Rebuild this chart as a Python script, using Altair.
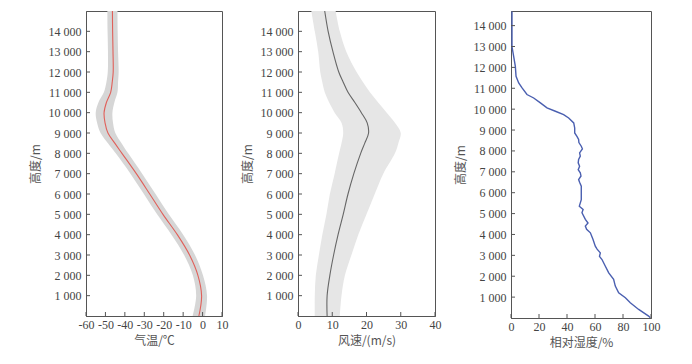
import altair as alt
import pandas as pd

# ---- Panel 1: temperature (mean and spread) ----
h_tw = [0, 1000, 2000, 3000, 4000, 5000, 6000, 7000, 8000, 8500, 9000, 9500,
        10000, 10500, 11000, 11500, 12000, 13000, 14000, 15000]
t_mean = [-1.9, -0.5, -2.4, -6.7, -13.0, -20.4, -27.2, -34.1, -41.5, -45.2, -48.7, -50.2,
          -50.7, -49.5, -47.3, -46.5, -46.0, -46.1, -46.3, -46.4]
t_half = [3.2, 2.8, 2.6, 2.8, 3.0, 3.0, 3.0, 3.0, 3.2, 3.5, 3.8, 4.1,
          4.3, 4.1, 3.5, 3.0, 2.8, 2.6, 2.6, 2.6]

# ---- Panel 2: wind speed (mean, lower, upper) ----
w_mean = [8.5, 8.5, 9.3, 10.4, 11.7, 13.2, 14.6, 16.3, 18.3, 19.5, 20.6, 20.2,
          18.5, 16.6, 14.6, 13.2, 11.9, 10.2, 8.8, 7.8]
w_low = [4.9, 4.9, 5.2, 6.1, 7.1, 8.3, 9.3, 10.7, 12.0, 12.7, 13.2, 12.7,
         10.7, 9.1, 7.8, 7.1, 6.5, 5.9, 4.9, 3.9]
w_high = [12.2, 12.7, 13.7, 15.6, 17.6, 20.0, 22.4, 24.9, 28.3, 29.3, 30.0, 28.3,
          25.9, 23.4, 21.0, 19.0, 17.1, 14.1, 12.2, 11.0]

# ---- Panel 3: relative humidity ----
h_rh = [10, 90, 410, 730, 970, 1210, 1530, 1850, 2160, 2480, 2800, 2950, 3120, 3300, 3440,
        3760, 4080, 4250, 4400, 4550, 4720, 5040, 5200, 5355, 5670, 5995, 6315, 6500, 6630,
        6800, 6950, 7100, 7270, 7430, 7590, 7750, 7905, 8100, 8225, 8400, 8545, 8700, 8860,
        9100, 9340, 9580, 9740, 9900, 10060, 10300, 10535, 10700, 11015, 11255, 11570,
        12050, 12530, 13000, 14000, 14680]
rh = [99.5, 98.3, 91.2, 85.2, 81.7, 76.9, 74.5, 73.3, 69.8, 67.4, 65.0, 63.2, 63.8, 61.5, 60.2,
      58.6, 56.7, 54.0, 53.1, 55.0, 53.1, 50.7, 51.5, 48.8, 50.2, 50.2, 50.2, 49.0, 48.3,
      50.0, 49.5, 48.0, 49.0, 48.0, 48.3, 49.5, 49.0, 51.0, 50.2, 48.5, 48.3, 47.1, 45.5,
      45.5, 44.8, 41.2, 37.6, 31.7, 25.7, 21.0, 16.2, 11.4, 7.9, 5.5, 3.6,
      3.1, 1.9, 0.7, 0.7, 0.7]

y_ticks = list(range(1000, 15000, 1000))
x1_ticks = [-60, -50, -40, -30, -20, -10, 0, 10]
x2_ticks = [0, 10, 20, 30, 40]
x3_ticks = [0, 20, 40, 60, 80, 100]

df_tw = pd.DataFrame({
    "h": h_tw,
    "t": t_mean,
    "t_lo": [m - s for m, s in zip(t_mean, t_half)],
    "t_hi": [m + s for m, s in zip(t_mean, t_half)],
    "w": w_mean, "w_lo": w_low, "w_hi": w_high,
})
df_rh = pd.DataFrame({"h": h_rh, "rh": rh})

LABEL_EXPR = "replace(format(datum.value, ','), ',', ' ')"
TICK = "#555555"
LFONT = "Liberation Serif"


def yaxis():
    return alt.Axis(values=y_ticks, labelExpr=LABEL_EXPR, ticks=False,
                    title="高度/m", labelPadding=5, titlePadding=6,
                    labelOverlap=False, labelFont=LFONT, labelFontSize=12,
                    grid=False)


def xaxis(title, vals):
    return alt.Axis(values=vals, ticks=False, title=title, labelPadding=3,
                    titlePadding=5, labelExpr="'' + datum.value",
                    labelOverlap=False, labelFont=LFONT, labelFontSize=12,
                    grid=False)


def Y(field, dom):
    return alt.Y(field, scale=alt.Scale(domain=dom, nice=False), axis=yaxis())


def X(field, dom, title, vals):
    return alt.X(field, scale=alt.Scale(domain=dom, nice=False),
                 axis=xaxis(title, vals))


def inward_ticks(xvals, xdom, ydom, hgt, xtitle):
    ydf = pd.DataFrame({"v": y_ticks})
    xdf = pd.DataFrame({"v": xvals})
    yt = alt.Chart(ydf).mark_rule(color=TICK, strokeWidth=1).encode(
        y=Y("v:Q", ydom), x=alt.value(0), x2=alt.value(4))
    xt = alt.Chart(xdf).mark_rule(color=TICK, strokeWidth=1).encode(
        x=X("v:Q", xdom, xtitle, xvals), y=alt.value(hgt), y2=alt.value(hgt - 4))
    return [yt, xt]


ydom = [0, 15000]
H = 305

# Panel 1
W1 = 136
dom1 = [-60, 10]
T1 = "气温/℃"
band1 = alt.Chart(df_tw).mark_area(orient="horizontal", color="#d6d6d6",
                                   interpolate="catmull-rom").encode(
    y=Y("h:Q", ydom), x=X("t_lo:Q", dom1, T1, x1_ticks), x2="t_hi:Q")
line1 = alt.Chart(df_tw).mark_line(color="#e0605a", strokeWidth=1.1,
                                   interpolate="catmull-rom").encode(
    y=Y("h:Q", ydom), x=X("t:Q", dom1, T1, x1_ticks), order="h:Q")
p1 = alt.layer(band1, line1,
               *inward_ticks(x1_ticks, dom1, ydom, H, T1)).properties(
    width=W1, height=H)

# Panel 2
W2 = 137
dom2 = [0, 40]
T2 = "风速/(m/s)"
band2 = alt.Chart(df_tw).mark_area(orient="horizontal", color="#e6e6e6",
                                   interpolate="catmull-rom").encode(
    y=Y("h:Q", ydom), x=X("w_lo:Q", dom2, T2, x2_ticks), x2="w_hi:Q")
line2 = alt.Chart(df_tw).mark_line(color="#666666", strokeWidth=1.1,
                                   interpolate="catmull-rom").encode(
    y=Y("h:Q", ydom), x=X("w:Q", dom2, T2, x2_ticks), order="h:Q")
p2 = alt.layer(band2, line2,
               *inward_ticks(x2_ticks, dom2, ydom, H, T2)).properties(
    width=W2, height=H)

# Panel 3
W3, H3 = 140, 307
dom3 = [0, 100]
ydom3 = [0, 14700]
T3 = "相对湿度/%"
line3 = alt.Chart(df_rh).mark_line(color="#4a5fb0", strokeWidth=1.4).encode(
    y=Y("h:Q", ydom3), x=X("rh:Q", dom3, T3, x3_ticks), order="h:Q")
p3 = alt.layer(line3,
               *inward_ticks(x3_ticks, dom3, ydom3, H3, T3)).properties(
    width=W3, height=H3)

chart = alt.hconcat(p1, p2, p3, spacing=11).resolve_scale(
    x="independent", y="independent"
).properties(
    padding={"left": 20, "top": 0, "right": 5, "bottom": 5},
    background="white",
).configure_view(
    stroke="#555555", strokeWidth=1
).configure_axis(
    grid=False, domainColor="#555555", domainWidth=1,
    labelFont=LFONT, labelFontSize=12, labelColor="#444444",
    titleFont="Noto Sans CJK SC", titleFontSize=12, titleColor="#555555",
    titleFontWeight="normal", labelFlush=False, labelOverlap=False,
)

chart.save("out.html", embed_options={"renderer": "svg", "actions": False})
